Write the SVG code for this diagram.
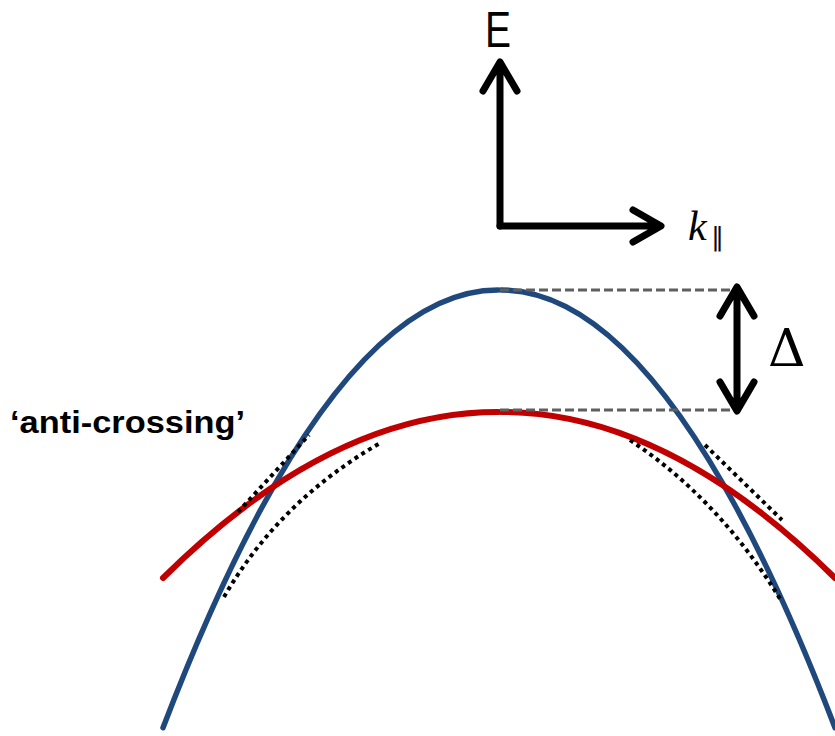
<svg xmlns="http://www.w3.org/2000/svg" width="835" height="736" viewBox="0 0 835 736">
<style>
.ax{fill:none;stroke:#000;stroke-width:7;stroke-linecap:round;stroke-linejoin:round}
.blue{fill:none;stroke:#1F497D;stroke-width:5.5;stroke-linecap:round}
.red{fill:none;stroke:#C00000;stroke-width:6;stroke-linecap:round}
.dash{fill:none;stroke:#5F5F5F;stroke-width:3;stroke-dasharray:9 4}
.dot{fill:none;stroke:#000;stroke-width:4;stroke-dasharray:4 4}
</style>
<rect width="835" height="736" fill="#fff"/>
<g id="axes">
<path class="ax" d="M500,226 V64 M483,91 L500,62 L517,91"/>
<path class="ax" d="M500,226 H659 M633,210 L661,226 L633,242"/>
<text x="485" y="47" font-family="Liberation Sans, sans-serif" font-size="50" textLength="26" lengthAdjust="spacingAndGlyphs">E</text>
<text x="688" y="240" font-family="Liberation Serif, serif" font-style="italic" font-size="42">k</text>
<text x="711" y="246" font-family="Liberation Sans, sans-serif" font-size="26">∥</text>
</g>
<g id="blue-band">
<path class="blue" d="M163,727.7 Q330.5,290 498,290"/>
<path class="blue" d="M501,290 Q667.5,290 835,727.7"/>
</g>
<g id="red-band">
<path class="red" d="M163,578 Q330.5,412 498,412"/>
<path class="red" d="M501,412 Q667.5,412 835,578"/>
</g>
<g id="gap">
<path class="dash" d="M500,290 H735 M500,410 H735"/>
<path class="ax" d="M737,292 V406 M720,316 L737,287 L754,316 M720,382 L737,411 L754,382"/>
<text x="768" y="366" font-family="DejaVu Serif, serif" font-size="52">Δ</text>
</g>
<g id="asymptotes">
<path class="dot" d="M238,512 L309,435"/>
<path class="dot" d="M224,597 Q280,500 382,442"/>
<path class="dot" d="M705,445 L782,520"/>
<path class="dot" d="M630,440 Q720,500 782,602"/>
</g>
<g id="label">
<text x="10" y="433" font-family="Liberation Sans, sans-serif" font-weight="bold" font-size="32" textLength="235" lengthAdjust="spacingAndGlyphs">‘anti-crossing’</text>
</g>
</svg>
